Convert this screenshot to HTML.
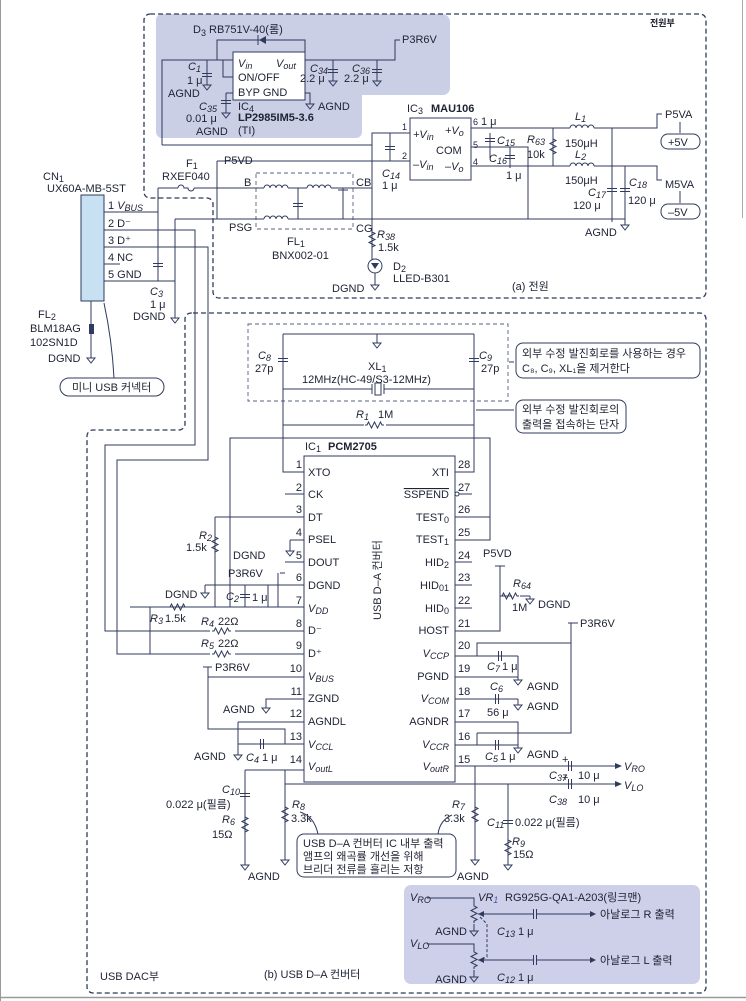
<!DOCTYPE html>
<html><head><meta charset="utf-8"><style>
html,body{margin:0;padding:0;background:#fff;}
svg{display:block;}
text{font-family:"Liberation Sans","Noto Sans CJK KR",sans-serif;fill:#1e2233;font-size:11px;}
.s{font-size:9px}
.b{font-weight:bold}
.w{fill:none;stroke:#2f3a5c;stroke-width:1}
.d{fill:none;stroke:#2f3a5c;stroke-width:1.3;stroke-dasharray:5 3}
.dt{fill:none;stroke:#56607f;stroke-width:0.9;stroke-dasharray:4 3}
.cb{fill:#fff;stroke:#2f3a5c;stroke-width:1}
</style></head><body>
<svg width="746" height="1001" viewBox="0 0 746 1001" xmlns="http://www.w3.org/2000/svg">
<defs>
<g id="gnd"><path class="w" d="M0,0 v3 M-4,3 h8 l-4,5 z"/></g>
<g id="capv"><path class="w" d="M-5,-1.5 h10 M-5,1.5 h10" stroke-width="2"/></g>
<g id="resv"><path class="w" d="M0,-10 v2 l3,1.5 l-6,3 l6,3 l-6,3 l6,3 l-3,1.5 v2"/></g>
<g id="resh"><path class="w" d="M-10,0 h2 l1.5,-3 l3,6 l3,-6 l3,6 l3,-6 l1.5,3 h2"/></g>
<g id="ind"><path class="w" d="M-12,0 a3,3 0 0 1 6,0 a3,3 0 0 1 6,0 a3,3 0 0 1 6,0 a3,3 0 0 1 6,0"/></g>
<g id="caph"><path class="w" d="M-1.5,-5 v10 M1.5,-5 v10" stroke-width="2"/></g>
</defs>
<rect x="0" y="0" width="746" height="1001" fill="#fff"/>
<path d="M0.5,0 V1001" stroke="#999" stroke-width="1"/>
<path d="M0,997.5 H746" stroke="#999" stroke-width="1.5"/>
<path d="M742.5,0 V218" stroke="#aaa" stroke-width="1"/>

<path d="M162,14 H442 a8,8 0 0 1 8,8 V88 a7,7 0 0 1 -7,7 H362 V132 a6,6 0 0 1 -6,6 H162 a6,6 0 0 1 -6,-6 V20 a6,6 0 0 1 6,-6z" fill="#cacfe6"/>
<path class="d" d="M150,14 H700 a6,6 0 0 1 6,6 V292 a6,6 0 0 1 -6,6 H219 a6,6 0 0 1 -6,-6 V204 a6,6 0 0 0 -6,-6 H150 a6,6 0 0 1 -6,-6 V20 a6,6 0 0 1 6,-6z"/>
<text x="650" y="26" class="b s">전원부</text>

<text x="193" y="33">D<tspan class="s" dy="3">3</tspan><tspan dy="-3"> RB751V-40(롬)</tspan></text>
<path class="w" d="M217,60 V40 H305 V60"/>
<path d="M266,36 v8 l-7,-4z" fill="#2f3a5c"/><path class="w" d="M258,35 v10" stroke-width="1.5"/>
<rect x="233" y="52" width="72" height="48" class="cb" fill="none"/>
<text x="238" y="67" font-style="italic">V<tspan class="s" dy="2">in</tspan></text>
<text x="276" y="67" font-style="italic">V<tspan class="s" dy="2">out</tspan></text>
<text x="238" y="81">ON/OFF</text>
<text x="238" y="96">BYP  GND</text>
<path class="w" d="M162,145 V60 H233 M223,60 V77 H233 M305,60 H395 V40 H400 M305,93 H310 V101"/>
<text x="402" y="43">P3R6V</text>
<use href="#gnd" x="310" y="101"/><text x="318" y="110">AGND</text>
<path class="w" d="M207,60 V82"/><use href="#capv" x="207" y="75"/><use href="#gnd" x="207" y="82"/>
<text x="188" y="70" font-style="italic">C<tspan class="s" dy="2">1</tspan></text><text x="187" y="84">1 μ</text><text x="168" y="97">AGND</text>
<path class="w" d="M226,93 H233 M226,93 V110"/><use href="#capv" x="226" y="102"/><use href="#gnd" x="226" y="110"/>
<text x="199" y="110" font-style="italic">C<tspan class="s" dy="2">35</tspan></text><text x="186" y="122">0.01 μ</text><text x="196" y="135">AGND</text>
<text x="238" y="110">IC<tspan class="s" dy="2">4</tspan></text>
<text x="238" y="121" class="b" font-size="10">LP2985IM5-3.6</text>
<text x="238" y="134">(TI)</text>
<path class="w" d="M333,60 V80 M377,60 V80"/><use href="#capv" x="333" y="71"/><use href="#capv" x="377" y="71"/>
<use href="#gnd" x="333" y="78"/><use href="#gnd" x="377" y="78"/>
<text x="310" y="72" font-style="italic">C<tspan class="s" dy="2">34</tspan></text><text x="300" y="82">2.2 μ</text>
<text x="352" y="72" font-style="italic">C<tspan class="s" dy="2">36</tspan></text><text x="344" y="82">2.2 μ</text>

<text x="407" y="112">IC<tspan class="s" dy="2">3</tspan></text><text x="431" y="112" class="b">MAU106</text>
<rect x="410" y="118" width="61" height="62" class="cb"/>
<text x="413" y="138" font-style="italic">+V<tspan class="s" dy="2">in</tspan></text>
<text x="445" y="134" font-style="italic">+V<tspan class="s" dy="2">o</tspan></text>
<text x="436" y="154">COM</text>
<text x="413" y="168" font-style="italic">–V<tspan class="s" dy="2">in</tspan></text>
<text x="445" y="170" font-style="italic">–V<tspan class="s" dy="2">o</tspan></text>
<text x="402" y="130" class="s">1</text><text x="402" y="159" class="s">2</text>
<text x="473" y="125" class="s">6</text><text x="473" y="148" class="s">5</text><text x="473" y="165" class="s">4</text>
<path class="w" d="M162,145 H372 V133 H410 M390,133 V161 M372,145 V270 M217,161 H410"/>
<use href="#capv" x="390" y="148"/>
<text x="382" y="177" font-style="italic">C<tspan class="s" dy="2">14</tspan></text><text x="382" y="189">1 μ</text>
<path class="w" d="M471,128 H570 M594,128 H657 V114 H662 M471,147 H490 V158 M471,166 H570 M594,166 H657 V180 H662 M490,133 V158 M510,147 V168 M490,147 H528 V219 M553,128 V166 M612,128 V222 M625,166 V222"/>
<use href="#capv" x="490" y="140"/><use href="#capv" x="510" y="157"/>
<text x="481" y="125">1 μ</text>
<text x="497" y="144" font-style="italic">C<tspan class="s" dy="2">15</tspan></text>
<text x="489" y="162" font-style="italic">C<tspan class="s" dy="2">16</tspan></text><text x="506" y="179">1 μ</text>
<use href="#resv" x="553" y="147"/>
<text x="527" y="143" font-style="italic">R<tspan class="s" dy="2">63</tspan></text><text x="527" y="158">10k</text>
<use href="#ind" x="582" y="128"/><use href="#ind" x="582" y="166"/>
<text x="575" y="120" font-style="italic">L<tspan class="s" dy="2">1</tspan></text><text x="565" y="147">150μH</text>
<text x="575" y="158" font-style="italic">L<tspan class="s" dy="2">2</tspan></text><text x="565" y="184">150μH</text>
<use href="#capv" x="612" y="190"/><use href="#capv" x="625" y="190"/>
<text x="588" y="196" font-style="italic">C<tspan class="s" dy="2">17</tspan></text><text x="573" y="209">120 μ</text>
<text x="629" y="186" font-style="italic">C<tspan class="s" dy="2">18</tspan></text><text x="628" y="204">120 μ</text>
<text x="665" y="118">P5VA</text><text x="665" y="188">M5VA</text>
<path class="w" d="M680,122 V133 M680,191 V203"/>
<rect x="661" y="134" width="39" height="15" rx="7" class="cb"/><text x="668" y="146">+5V</text>
<rect x="661" y="204" width="39" height="15" rx="7" class="cb"/><text x="668" y="216">–5V</text>
<text x="585" y="236">AGND</text><use href="#gnd" x="625" y="222"/>

<text x="43" y="180">CN<tspan class="s" dy="2">1</tspan></text>
<text x="47" y="192">UX60A-MB-5ST</text>
<rect x="81" y="195" width="23" height="106" fill="#c7e1f2" stroke="#2f3a5c"/>
<text x="108" y="209">1  <tspan font-style="italic">V<tspan class="s" dy="2">BUS</tspan></tspan></text>
<text x="108" y="227">2  D⁻</text><text x="108" y="244">3  D⁺</text>
<text x="108" y="261">4  NC</text><text x="108" y="278">5  GND</text>
<path class="w" d="M104,212 H158 M104,230 H195 V445 H105 V631 H305 M104,247 H208 V460 H117 V654 H305 M104,264 H120 M104,281 H175 M158,188 V281 M175,219 V296"/>
<use href="#capv" x="158" y="265"/>
<text x="150" y="295" font-style="italic">C<tspan class="s" dy="2">3</tspan></text><text x="150" y="308">1 μ</text><text x="133" y="320">DGND</text>
<use href="#gnd" x="175" y="315"/><path class="w" d="M175,296 V315"/>
<path class="w" d="M158,188 H178 M194,188 H253 M175,219 H253 M217,161 V219"/>
<path class="w" d="M178,188 a3,3 0 0 1 6,0 h4 a3,3 0 0 0 6,0"/>
<text x="186" y="167">F<tspan class="s" dy="2">1</tspan></text><text x="162" y="180">RXEF040</text>
<path class="w" d="M217,161 H222"/><text x="224" y="164">P5VD</text>
<rect x="256" y="173" width="97" height="56" class="dt"/>
<text x="244" y="186">B</text><text x="229" y="231">PSG</text><text x="356" y="186">CB</text><text x="356" y="232">CG</text>
<path class="w" d="M253,188 H264 M288,188 H307 M331,188 H372 M253,219 H264 M288,219 H625 M298,188 V219 M343,188 V219"/>
<use href="#ind" x="276" y="188"/><use href="#ind" x="319" y="188"/><use href="#ind" x="276" y="219"/>
<use href="#capv" x="298" y="205"/><path class="w" d="M338,190 h10" stroke-width="2"/>
<text x="287" y="245">FL<tspan class="s" dy="2">1</tspan></text><text x="272" y="259">BNX002-01</text>
<use href="#resv" x="372" y="240"/>
<text x="377" y="238" font-style="italic">R<tspan class="s" dy="2">38</tspan></text><text x="378" y="251">1.5k</text>
<circle cx="375" cy="266" r="7" class="cb"/><path d="M371,263 h8 l-4,6z" fill="#2f3a5c"/>
<path class="w" d="M375,273 V282"/><use href="#gnd" x="375" y="282"/>
<text x="393" y="270">D<tspan class="s" dy="2">2</tspan></text><text x="393" y="282">LLED-B301</text>
<text x="332" y="292">DGND</text>
<text x="512" y="290" font-size="10">(a) 전원</text>

<text x="38" y="318">FL<tspan class="s" dy="2">2</tspan></text>
<text x="30" y="332">BLM18AG</text><text x="30" y="346">102SN1D</text><text x="48" y="362">DGND</text>
<path class="w" d="M91,301 V355"/><rect x="89" y="324" width="5" height="10" fill="#2f3a5c"/><use href="#gnd" x="91" y="355"/>
<path class="w" d="M104,303 Q112,340 114,378"/>
<rect x="60" y="378" width="104" height="18" rx="9" class="cb"/><text x="72" y="391" font-size="10">미니 USB 커넥터</text>

<path class="d" d="M193,313 H700 a6,6 0 0 1 6,6 V987 a6,6 0 0 1 -6,6 H93 a6,6 0 0 1 -6,-6 V436 a6,6 0 0 1 6,-6 H179 a6,6 0 0 0 6,-6 V319 a6,6 0 0 1 6,-6z"/>
<text x="100" y="980" font-size="10">USB DAC부</text>
<text x="264" y="978" font-size="10">(b) USB D–A 컨버터</text>

<rect x="248" y="324" width="260" height="77" class="dt"/>
<path class="w" d="M283,334 H474 M377,334 V340 M283,334 V472 H305 M474,334 V472 H455 M283,389 H372 M384,389 H474 M283,425 H364 M386,425 H474"/>
<use href="#gnd" x="377" y="340"/>
<use href="#capv" x="283" y="360"/><use href="#capv" x="474" y="360"/>
<text x="258" y="359" font-style="italic">C<tspan class="s" dy="2">8</tspan></text><text x="255" y="372">27p</text>
<text x="479" y="359" font-style="italic">C<tspan class="s" dy="2">9</tspan></text><text x="481" y="372">27p</text>
<text x="368" y="370">XL<tspan class="s" dy="2">1</tspan></text>
<text x="302" y="383">12MHz(HC-49/S3-12MHz)</text>
<path class="w" d="M372,384 v10 M384,384 v10"/><rect x="375" y="383" width="6" height="12" class="cb"/>
<use href="#resh" x="375" y="425"/>
<text x="356" y="418" font-style="italic">R<tspan class="s" dy="2">1</tspan></text><text x="378" y="418">1M</text>
<path class="w" d="M509,362 H514 M476,410 H514"/>
<rect x="516" y="343" width="184" height="35" rx="7" class="cb"/>
<text x="522" y="357" font-size="10">외부 수정 발진회로를 사용하는 경우</text>
<text x="522" y="372" font-size="10">C₈, C₉, XL₁을 제거한다</text>
<rect x="516" y="400" width="110" height="33" rx="7" class="cb"/>
<text x="522" y="413" font-size="10">외부 수정 발진회로의</text>
<text x="522" y="428" font-size="10">출력을 접속하는 단자</text>

<text x="305" y="450">IC<tspan class="s" dy="2">1</tspan></text><text x="328" y="450" class="b">PCM2705</text>
<rect x="304" y="456" width="151" height="326" class="cb" stroke-width="1.3"/>
<text transform="translate(381,620) rotate(-90)" font-size="10">USB D–A 컨버터</text>
<g font-size="11">
<text x="308" y="476">XTO</text><text x="308" y="498">CK</text><text x="308" y="521">DT</text><text x="308" y="543">PSEL</text><text x="308" y="566">DOUT</text><text x="308" y="589">DGND</text>
<text x="308" y="612" font-style="italic">V<tspan class="s" dy="2">DD</tspan></text><text x="308" y="634">D⁻</text><text x="308" y="657">D⁺</text>
<text x="308" y="680" font-style="italic">V<tspan class="s" dy="2">BUS</tspan></text><text x="308" y="702">ZGND</text><text x="308" y="725">AGNDL</text>
<text x="308" y="748" font-style="italic">V<tspan class="s" dy="2">CCL</tspan></text><text x="308" y="770" font-style="italic">V<tspan class="s" dy="2">outL</tspan></text>
<g text-anchor="end">
<text x="449" y="476">XTI</text><text x="449" y="498" text-decoration="overline">SSPEND</text><text x="449" y="521">TEST<tspan class="s" dy="2">0</tspan></text><text x="449" y="543">TEST<tspan class="s" dy="2">1</tspan></text>
<text x="449" y="566">HID<tspan class="s" dy="2">2</tspan></text><text x="449" y="589">HID<tspan class="s" dy="2">01</tspan></text><text x="449" y="612">HID<tspan class="s" dy="2">0</tspan></text><text x="449" y="634">HOST</text>
<text x="449" y="657" font-style="italic">V<tspan class="s" dy="2">CCP</tspan></text><text x="449" y="680">PGND</text><text x="449" y="702" font-style="italic">V<tspan class="s" dy="2">COM</tspan></text>
<text x="449" y="725">AGNDR</text><text x="449" y="748" font-style="italic">V<tspan class="s" dy="2">CCR</tspan></text><text x="449" y="770" font-style="italic">V<tspan class="s" dy="2">outR</tspan></text>
</g>
<g text-anchor="end">
<text x="302" y="468">1</text><text x="302" y="491">2</text><text x="302" y="513">3</text><text x="302" y="536">4</text><text x="302" y="559">5</text><text x="302" y="581">6</text><text x="302" y="604">7</text><text x="302" y="627">8</text><text x="302" y="649">9</text><text x="302" y="672">10</text><text x="302" y="695">11</text><text x="302" y="717">12</text><text x="302" y="740">13</text><text x="302" y="763">14</text>
</g>
<text x="458" y="468">28</text><text x="458" y="491">27</text><text x="458" y="513">26</text><text x="458" y="536">25</text><text x="458" y="559">24</text><text x="458" y="581">23</text><text x="458" y="604">22</text><text x="458" y="627">21</text><text x="458" y="649">20</text><text x="458" y="672">19</text><text x="458" y="695">18</text><text x="458" y="717">17</text><text x="458" y="740">16</text><text x="458" y="763">15</text>
</g>
<circle cx="457" cy="494" r="2" class="cb"/>
<path class="w" d="M285,494 H304 M459,494 H472 M455,517 H490 M455,540 H490 V438 H230 V607 M455,562 H472 M455,585 H472 M455,608 H472 M455,631 H500 V566 H495"/>
<path class="w" d="M215,517 H304 M215,517 V607 M290,540 H304 M290,540 V548 M285,562 H304 M205,585 H304 M205,585 V590 M280,573 H285 M278,573 V607 M268,585 V607 M130,607 H304 M150,607 V654"/>
<use href="#resv" x="215" y="545"/>
<text x="199" y="539" font-style="italic">R<tspan class="s" dy="2">2</tspan></text><text x="186" y="551">1.5k</text>
<use href="#gnd" x="290" y="548"/><text x="233" y="559">DGND</text>
<text x="228" y="577">P3R6V</text>
<use href="#gnd" x="205" y="590"/><text x="165" y="598">DGND</text>
<use href="#capv" x="245" y="596"/><path class="w" d="M245,585 V607"/>
<text x="226" y="600" font-style="italic">C<tspan class="s" dy="2">2</tspan></text><text x="252" y="601">1 μ</text>
<use href="#resh" x="178" y="607"/>
<text x="150" y="622" font-style="italic">R<tspan class="s" dy="2">3</tspan></text><text x="165" y="622">1.5k</text>
<rect x="210" y="627" width="25" height="8" fill="#fff"/><use href="#resh" x="222" y="631"/>
<text x="201" y="625" font-style="italic">R<tspan class="s" dy="2">4</tspan></text><text x="218" y="625">22Ω</text>
<rect x="210" y="650" width="25" height="8" fill="#fff"/><use href="#resh" x="222" y="654"/>
<text x="201" y="647" font-style="italic">R<tspan class="s" dy="2">5</tspan></text><text x="218" y="647">22Ω</text>
<path class="w" d="M203,667 H212 M208,667 V677 H304 M208,677 V729 H285 V744 M304,699 H266 V705 M238,722 H304 M238,722 V752 M238,744 H304 M285,744 V744"/>
<text x="215" y="671">P3R6V</text>
<use href="#gnd" x="266" y="705"/><text x="223" y="713">AGND</text>
<use href="#caph" x="262" y="744"/><use href="#gnd" x="238" y="752"/>
<text x="194" y="760">AGND</text><text x="246" y="761" font-style="italic">C<tspan class="s" dy="2">4</tspan></text><text x="262" y="761">1 μ</text>
<path class="w" d="M245,770 H304 M285,770 V857 M245,770 V862 M285,784 H575 M455,766 H575"/>
<use href="#capv" x="245" y="795"/>
<text x="222" y="793" font-style="italic">C<tspan class="s" dy="2">10</tspan></text><text x="166" y="808">0.022 μ(필름)</text>
<use href="#resv" x="245" y="825"/>
<text x="222" y="823" font-style="italic">R<tspan class="s" dy="2">6</tspan></text><text x="212" y="838">15Ω</text>
<use href="#gnd" x="245" y="862"/><use href="#gnd" x="285" y="857"/>
<text x="248" y="880">AGND</text>
<use href="#resv" x="285" y="815"/>
<text x="292" y="808" font-style="italic">R<tspan class="s" dy="2">8</tspan></text><text x="291" y="822">3.3k</text>

<path class="w" d="M495,566 H505 M500,596 H512"/>
<text x="483" y="557">P5VD</text>
<use href="#resh" x="510" y="596"/><use href="#gnd" x="530" y="596"/><path class="w" d="M520,596 H530"/>
<text x="513" y="587" font-style="italic">R<tspan class="s" dy="2">64</tspan></text><text x="512" y="611">1M</text><text x="538" y="608">DGND</text>
<path class="w" d="M568,623 H578 M571,623 V643 H477 V656 H455 M477,656 H518 M518,656 V677 M455,677 H518 M455,699 H518 M518,699 V702 M455,722 H518 V745 M455,745 H518 M477,733 H571 V643 M477,733 V745"/>
<text x="580" y="627">P3R6V</text>
<use href="#caph" x="500" y="656"/><use href="#gnd" x="518" y="677"/>
<text x="487" y="670" font-style="italic">C<tspan class="s" dy="2">7</tspan></text><text x="502" y="670">1 μ</text><text x="527" y="690">AGND</text>
<use href="#caph" x="497" y="699"/><use href="#gnd" x="518" y="702"/>
<text x="490" y="690" font-style="italic">C<tspan class="s" dy="2">6</tspan></text><text x="487" y="716">56 μ</text><text x="527" y="710">AGND</text>
<use href="#caph" x="497" y="745"/><use href="#gnd" x="518" y="745"/>
<text x="485" y="760" font-style="italic">C<tspan class="s" dy="2">5</tspan></text><text x="500" y="760">1 μ</text><text x="527" y="758">AGND</text>
<use href="#caph" x="570" y="766"/><use href="#caph" x="570" y="784"/>
<path class="w" d="M575,766 H615 M575,784 H615"/>
<path d="M615,763 l7,3 l-7,3z M615,781 l7,3 l-7,3z" fill="#2f3a5c"/>
<text x="562" y="763">+</text><text x="562" y="781">+</text>
<text x="549" y="779" font-style="italic">C<tspan class="s" dy="2">37</tspan></text><text x="578" y="779">10 μ</text>
<text x="549" y="803" font-style="italic">C<tspan class="s" dy="2">38</tspan></text><text x="578" y="803">10 μ</text>
<text x="624" y="770" font-style="italic">V<tspan class="s" dy="2">RO</tspan></text><text x="624" y="789" font-style="italic">V<tspan class="s" dy="2">LO</tspan></text>
<path class="w" d="M475,766 V857 M508,784 V862"/>
<use href="#resv" x="475" y="815"/>
<text x="452" y="808" font-style="italic">R<tspan class="s" dy="2">7</tspan></text><text x="444" y="822">3.3k</text>
<use href="#capv" x="508" y="822"/>
<text x="487" y="826" font-style="italic">C<tspan class="s" dy="2">11</tspan></text><text x="515" y="826">0.022 μ(필름)</text>
<use href="#resv" x="508" y="848"/>
<text x="512" y="845" font-style="italic">R<tspan class="s" dy="2">9</tspan></text><text x="513" y="858">15Ω</text>
<use href="#gnd" x="475" y="857"/><use href="#gnd" x="508" y="862"/>
<text x="457" y="880">AGND</text>

<path class="w" d="M318,834 Q314,816 300,812 M438,834 Q440,820 452,815"/>
<rect x="297" y="834" width="159" height="43" rx="7" class="cb"/>
<text x="303" y="847" font-size="10">USB D–A 컨버터 IC 내부 출력</text>
<text x="303" y="860" font-size="10">앰프의 왜곡률 개선을 위해</text>
<text x="303" y="873" font-size="10">브리더 전류를 흘리는 저항</text>

<!-- VR box -->
<rect x="404" y="885" width="296" height="99" rx="7" fill="#cdd0e8"/>
<text x="410" y="901" font-style="italic" font-size="10">V<tspan class="s" dy="2">RO</tspan></text>
<text x="410" y="947" font-style="italic" font-size="10">V<tspan class="s" dy="2">LO</tspan></text>
<path class="w" d="M427,898 H474 V904 M427,944 H474 V950 M474,924 V928 M474,970 V974 M478,914 H533 M478,960 H533 M537,914 H590 M537,960 H590"/>
<path class="w" d="M480,917 L487,924 V957 L480,960" stroke-dasharray="3 2"/>
<use href="#resv" x="474" y="914"/><use href="#resv" x="474" y="960"/>
<use href="#caph" x="535" y="914"/><use href="#caph" x="535" y="960"/>
<path d="M478,914 l6,-3 v6z M478,960 l6,-3 v6z M590,911 l6,3 l-6,3z M590,957 l6,3 l-6,3z" fill="#2f3a5c"/>
<use href="#gnd" x="474" y="928"/><use href="#gnd" x="474" y="974"/>
<text x="467" y="935" text-anchor="end">AGND</text><text x="467" y="983" text-anchor="end">AGND</text>
<text x="478" y="901" font-style="italic">VR<tspan class="s" dy="2" fill="#3a5aa8">1</tspan></text><text x="505" y="901">RG925G-QA1-A203(링크맨)</text>
<text x="497" y="935" font-style="italic">C<tspan class="s" dy="2">13</tspan></text><text x="518" y="935">1 μ</text>
<text x="497" y="981" font-style="italic">C<tspan class="s" dy="2">12</tspan></text><text x="518" y="981">1 μ</text>
<text x="600" y="918" font-size="10">아날로그 R 출력</text>
<text x="600" y="964" font-size="10">아날로그 L 출력</text>
</svg>
</body></html>
